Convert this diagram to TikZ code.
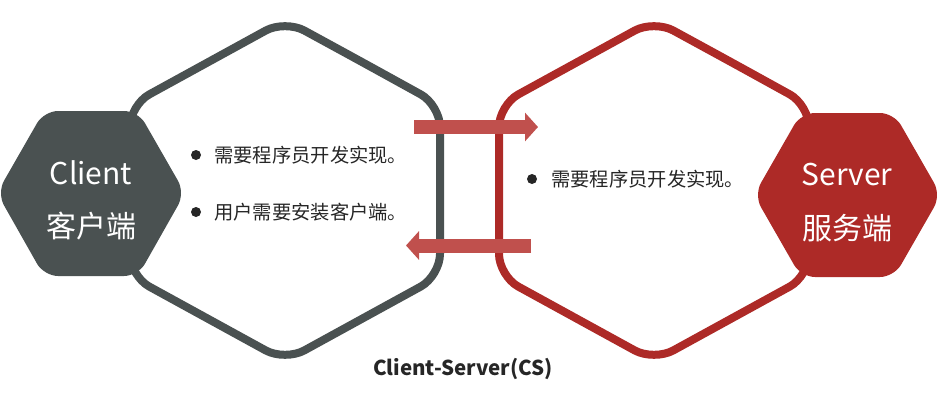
\documentclass[tikz,border=0pt]{standalone}
\usepackage{fontspec}
\setmainfont{Noto Sans CJK SC}
\usetikzlibrary{arrows.meta}
\definecolor{CsGrey}{HTML}{4A5151}
\definecolor{CsRed}{HTML}{AD2A27}
\definecolor{CsArrow}{HTML}{C0504D}
\definecolor{CsText}{HTML}{262626}

\begin{document}
\begin{tikzpicture}[x=1pt, y=-1pt,
    bighex/.style={line width=8pt, rounded corners=22pt},
    smallhex/.style={rounded corners=14pt},
    bullet/.style={circle, fill=CsText, inner sep=0pt, minimum size=10pt},
    item/.style={anchor=west, inner sep=0pt, text=CsText, font=\fontsize{19.3}{22}\selectfont},
    label/.style={text=white, inner sep=0pt, font=\fontsize{30}{34}\selectfont},
    flow/.style={CsArrow, line width=14pt, -{Triangle[width=28pt, length=13pt]}}]
    \useasboundingbox (0,0) rectangle (948,418);

    % ========== LEFT: Client ==========
    \draw[CsGrey, bighex] (362,62) -- (440,105) -- (440,276) -- (285,361)
        -- (130,276) -- (130,105) -- (285,20) -- cycle;
    \fill[CsGrey, smallhex] (91,111) -- (138,111) -- (185,193) -- (138,276)
        -- (44,276) -- (-3,193) -- (44,111) -- cycle;
    \node[label] (clientEn) at (91,173) {Client};
    \node[label] (clientCn) at (91,226) {客户端};

    % Client notes
    \node[bullet] (dotA) at (196,155) {};
    \node[item] (noteA) at (214,155) {需要程序员开发实现。};
    \node[bullet] (dotB) at (196,212) {};
    \node[item] (noteB) at (214,212) {用户需要安装客户端。};

    % ========== RIGHT: Server ==========
    \draw[CsRed, bighex] (731,62) -- (809,105) -- (809,276) -- (654,361)
        -- (499,276) -- (499,105) -- (654,20) -- cycle;
    \fill[CsRed, smallhex] (847,113) -- (894,113) -- (941,195) -- (894,277)
        -- (801,277) -- (754,195) -- (801,113) -- cycle;
    \node[label] (serverEn) at (847,175) {Server};
    \node[label] (serverCn) at (847,228) {服务端};

    % Server note
    \node[bullet] (dotC) at (532,179) {};
    \node[item] (noteC) at (551,179) {需要程序员开发实现。};

    % ========== Request / response ==========
    \coordinate (reqFrom) at (414,127);
    \coordinate (reqTo) at (538,127);
    \coordinate (resFrom) at (531,245.5);
    \coordinate (resTo) at (406,245.5);
    \draw[flow] (reqFrom) -- (reqTo);
    \draw[flow] (resFrom) -- (resTo);

    % Caption
    \node[text=CsText, font=\bfseries\fontsize{20.5}{24}\selectfont] (caption)
        at (463,369) {Client-Server(CS)};

\end{tikzpicture}
\end{document}
